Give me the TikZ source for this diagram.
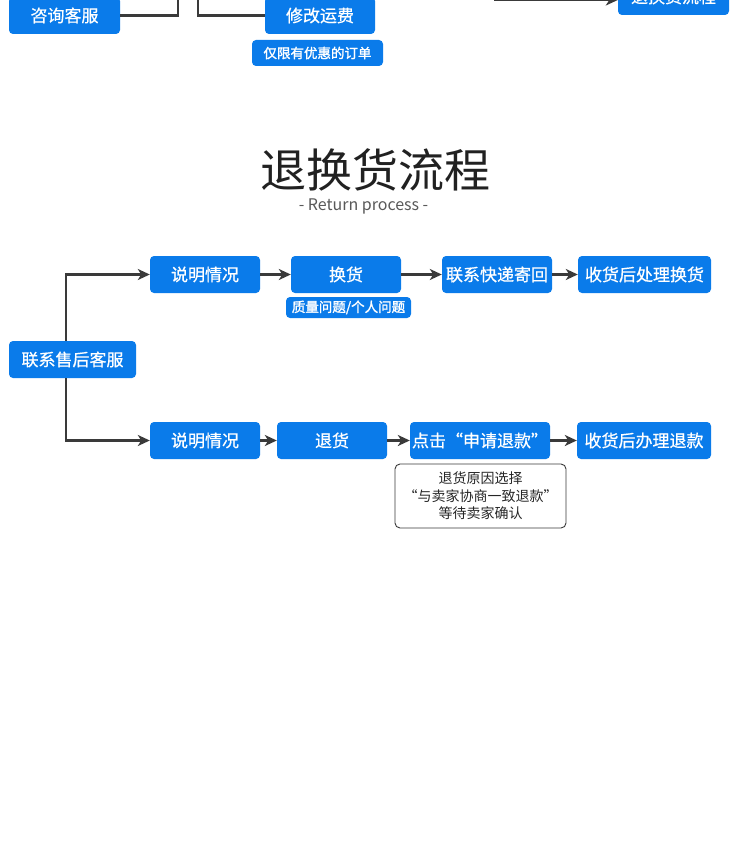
\documentclass[tikz,border=0pt]{standalone}
\usepackage{fontspec}
\setmainfont{Noto Sans CJK SC}
\newfontfamily\boxfont{Noto Sans CJK SC}[FakeBold=0.7]
\newfontfamily\tagfont{Noto Sans CJK SC}[FakeBold=1.6]
\usetikzlibrary{arrows.meta}
\definecolor{boxblue}{HTML}{0A7BEA}
\definecolor{linegray}{HTML}{3A3A3A}
\tikzset{
  bluebox/.style={fill=boxblue, rounded corners=4pt, text=white, inner sep=0pt, font=\boxfont\fontsize{17}{20}\selectfont},
  tagbox/.style={fill=boxblue, rounded corners=4pt, text=white, inner sep=0pt, font=\tagfont\fontsize{13.5}{16}\selectfont},
  notebox/.style={draw=linegray, line width=0.9pt, fill=white, rounded corners=5pt, text=black!85, inner sep=0pt, align=center, font=\fontsize{14}{17.5}\selectfont},
  conn/.style={draw=linegray, line width=2.1pt},
  arr/.style={conn, -{Stealth[length=12pt,width=11pt,inset=3.5pt]}},
}
\begin{document}
\begin{tikzpicture}[x=1pt,y=-1pt]
\useasboundingbox (0,0) rectangle (750,850);
\clip (0,0) rectangle (750,850);
\fill[white] (0,0) rectangle (750,850);
% top part
\node[bluebox, minimum width=111pt, minimum height=37pt] (zixun) at (64.5,15.5) {咨询客服};
\node[bluebox, minimum width=110pt, minimum height=37pt] (xiugai) at (320,15.5) {修改运费};
\node[tagbox, minimum width=131pt, minimum height=26pt] (xianyou) at (317.5,53) {仅限有优惠的订单};
\node[bluebox, minimum width=111pt, minimum height=37pt] (tuihuantop) at (673.5,-3.5) {退换货流程};
\coordinate (c1) at (178,-30);
\coordinate (c2) at (198,-30);
\coordinate (c3) at (494,0);
\draw[conn] (zixun.east) -- (zixun.east -| c1) -- (c1);
\draw[conn] (c2) -- (c2 |- xiugai.west) -- (xiugai.west);
\draw[arr] (c3) -- (c3 -| tuihuantop.west);
% title
\node[text=black!87, font=\fontsize{46}{50}\selectfont] (title) at (375,170) {退换货流程};
\node[text=black!65, font=\fontsize{16}{18}\selectfont] (subtitle) at (363.5,206.5) {- Return process -};
% flow
\node[bluebox, minimum width=127pt, minimum height=37pt] (lianxi) at (72.5,359.5) {联系售后客服};
\node[bluebox, minimum width=110pt, minimum height=37pt] (sm1) at (205,274.5) {说明情况};
\node[bluebox, minimum width=110pt, minimum height=37pt] (huan) at (346,274.5) {换货};
\node[tagbox, minimum width=125pt, minimum height=21pt] (zhiliang) at (348.5,307.5) {质量问题/个人问题};
\node[bluebox, minimum width=110pt, minimum height=37pt] (kuaidi) at (497,274.5) {联系快递寄回};
\node[bluebox, minimum width=133pt, minimum height=37pt] (sh1) at (644.5,274.5) {收货后处理换货};
\node[bluebox, minimum width=110pt, minimum height=37pt] (sm2) at (205,440.5) {说明情况};
\node[bluebox, minimum width=110pt, minimum height=37pt] (tui) at (332,440.5) {退货};
\node[bluebox, minimum width=140pt, minimum height=37pt] (dianji) at (480,440.5) {点击“申请退款”};
\node[bluebox, minimum width=134pt, minimum height=37pt] (sh2) at (644,440.5) {收货后办理退款};
\node[notebox, minimum width=171pt, minimum height=64pt] (note) at (480.5,496) {退货原因选择\\“与卖家协商一致退款”\\等待卖家确认};
\coordinate (vx) at (66,0);
\draw[arr] (lianxi.north -| vx) -- (vx |- sm1.west) -- (sm1.west);
\draw[arr] (lianxi.south -| vx) -- (vx |- sm2.west) -- (sm2.west);
\draw[arr] (sm1) -- (huan);
\draw[arr] (huan) -- (kuaidi);
\draw[arr] (kuaidi) -- (sh1);
\draw[arr] (sm2) -- (tui);
\draw[arr] (tui) -- (dianji);
\draw[arr] (dianji) -- (sh2);
\end{tikzpicture}
\end{document}
